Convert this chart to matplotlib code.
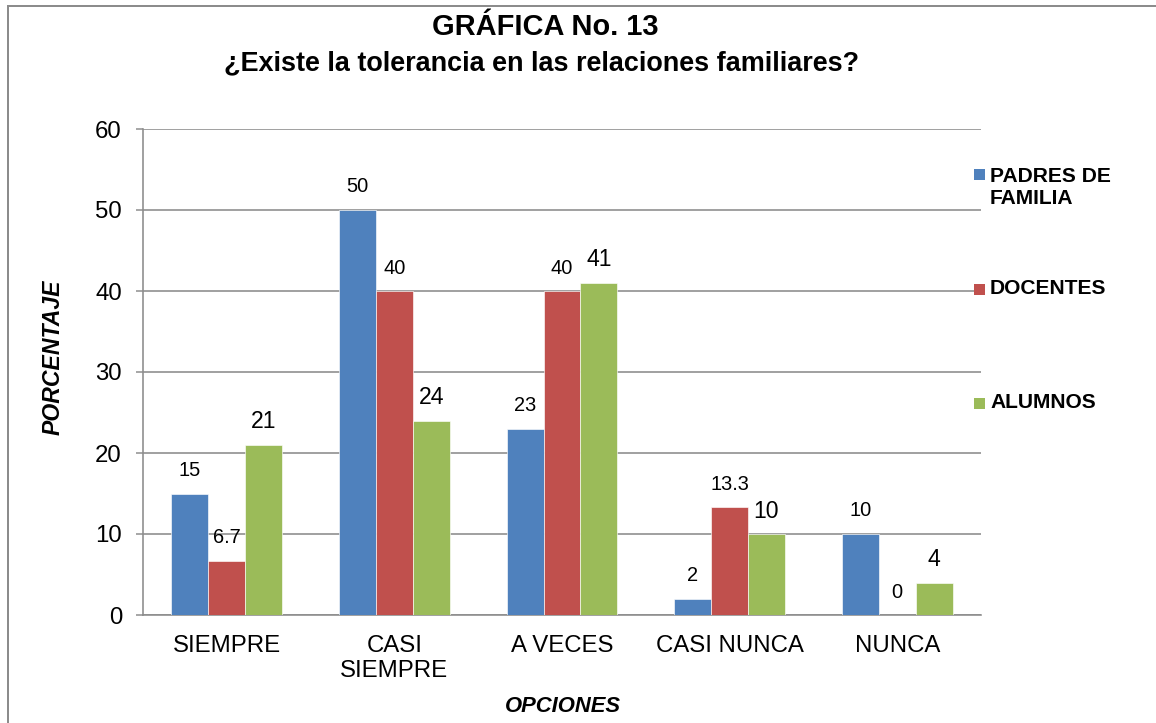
import matplotlib
matplotlib.use("Agg")
import matplotlib.pyplot as plt
import numpy as np
from matplotlib.patches import Rectangle
from matplotlib.lines import Line2D

categories = ["SIEMPRE", "CASI\nSIEMPRE", "A VECES", "CASI NUNCA", "NUNCA"]
series_names = ["PADRES DE\nFAMILIA", "DOCENTES", "ALUMNOS"]
padres = [15, 50, 23, 2, 10]
docentes = [6.7, 40, 40, 13.3, 0]
alumnos = [21, 24, 41, 10, 4]
colors = ["#4F81BD", "#C0504D", "#9BBB59"]
label_sizes = [20, 20, 23]

plt.rcParams['font.family'] = ['Liberation Sans', 'DejaVu Sans']

W, H = 1156, 723
DPI = 72
fig = plt.figure(figsize=(W / DPI, H / DPI), dpi=DPI)
fig.patch.set_facecolor("white")

def fx(px):
    return px / W

def fy(py):
    return 1 - py / H

ax = fig.add_axes([fx(143), fy(615), fx(981) - fx(143), fy(129) - fy(615)])

x = np.arange(len(categories))
bw = 0.22
all_series = [padres, docentes, alumnos]
for i, (vals, col, fs) in enumerate(zip(all_series, colors, label_sizes)):
    pos = x + (i - 1) * bw
    ax.bar(pos, vals, width=bw, color=col, edgecolor="white", linewidth=0.6, zorder=3)
    for xp, v in zip(pos, vals):
        lab = f"{v:g}"
        ax.annotate(lab, (xp, v), xytext=(0, 23), textcoords="offset points",
                    ha="center", va="center", fontsize=fs, color="black")

ax.set_xlim(-0.5, len(categories) - 0.5)
ax.set_ylim(0, 60)
ax.set_yticks(range(0, 61, 10))
ax.set_xticks(x)
ax.set_xticklabels(categories, fontsize=24, linespacing=1.2)
ax.tick_params(axis="x", length=0, pad=20)
ax.tick_params(axis="y", length=7, width=1.5, color="#8c8c8c", labelsize=24, pad=14)
ax.yaxis.grid(True, color="#8c8c8c", linewidth=1.6, zorder=0)
ax.set_axisbelow(True)
for s in ["top", "right"]:
    ax.spines[s].set_visible(False)
for s in ["left", "bottom"]:
    ax.spines[s].set_color("#8c8c8c")
    ax.spines[s].set_linewidth(1.6)

# Titles
title_font = ['Liberation Sans Narrow', 'Liberation Sans', 'DejaVu Sans']
fig.text(fx(545), fy(27), "GRÁFICA No. 13", ha="center", va="center",
         fontsize=29, fontweight="bold", family=title_font)
fig.text(fx(542), fy(63), "¿Existe la tolerancia en las relaciones familiares?", ha="center",
         va="center", fontsize=27, fontweight="bold", family=title_font)

fig.text(fx(53), fy(357), "PORCENTAJE", rotation=90, ha="center", va="center",
         fontsize=23, fontweight="bold", fontstyle="italic")
fig.text(fx(563), fy(707), "OPCIONES", ha="center", va="center",
         fontsize=22, fontweight="bold", fontstyle="italic")

# Legend (manual)
leg_y = [(174, 187), (289, 289), (403, 403)]
for name, col, (sq_y, txt_y) in zip(series_names, colors, leg_y):
    fig.patches.append(Rectangle((fx(974), fy(sq_y + 5.5)), fx(11), 11 / H,
                                 transform=fig.transFigure, facecolor=col,
                                 edgecolor="none", zorder=5))
    fig.text(fx(990), fy(txt_y), name, ha="left", va="center", fontsize=21,
             fontweight="bold", linespacing=1.2)

# Figure border (left and top)
fig.add_artist(Line2D([fx(8), fx(8)], [fy(6), 0], transform=fig.transFigure,
                      color="#8c8c8c", linewidth=2))
fig.add_artist(Line2D([fx(8), 1], [fy(6), fy(6)], transform=fig.transFigure,
                      color="#8c8c8c", linewidth=2))

fig.savefig("out.png", dpi=DPI, facecolor="white")
